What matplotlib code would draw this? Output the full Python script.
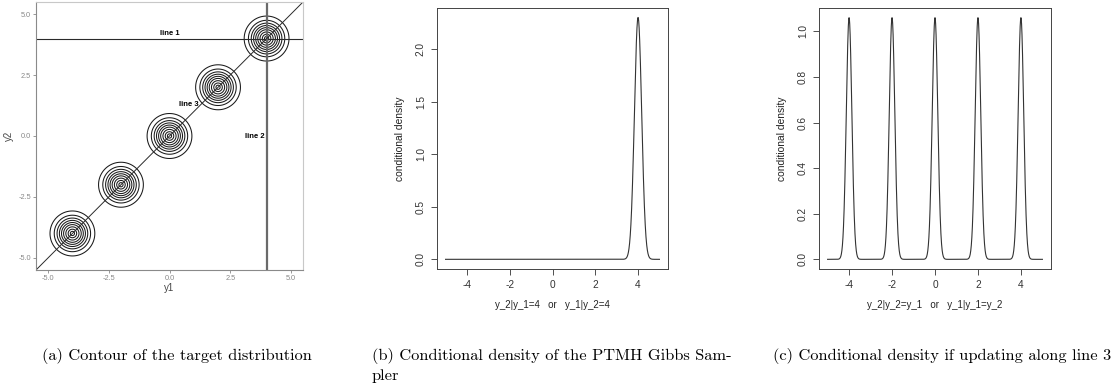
import numpy as np
import matplotlib
matplotlib.use("Agg")
import matplotlib.pyplot as plt

plt.rcParams["font.family"] = ["Liberation Sans", "DejaVu Sans"]
plt.rcParams["axes.unicode_minus"] = False

# Modes of the target (along y1 = y2)
modes = [-4, -2, 0, 2, 4]
contour_sd = 0.43
contour_levels = [0.10, 0.22, 0.34, 0.46, 0.58, 0.70, 0.82, 0.92, 0.98]  # fraction of peak

# panel (b): conditional at y_1 = 4
b_center = 4.0
b_peak = 2.3
b_sd = 0.17
b_yticks = [0.0, 0.5, 1.0, 1.5, 2.0]

# panel (c): conditional along line 3
c_centers = modes
c_peak = 1.06
c_sd = 0.13
c_yticks = [0.0, 0.2, 0.4, 0.6, 0.8, 1.0]

xticks_a = [-5.0, -2.5, 0.0, 2.5, 5.0]
xticks_bc = [-4, -2, 0, 2, 4]

line_labels = [("line 1", 0.0, 4.2), ("line 3", 0.8, 1.3), ("line 2", 3.5, 0.0)]

captions = [
    ("(a) Contour of the target distribution", 42),
    ("(b) Conditional density of the PTMH Gibbs Sam-\npler", 372),
    ("(c) Conditional density if updating along line 3", 773),
]

W, H = 1119, 392
fig = plt.figure(figsize=(W / 100, H / 100), dpi=100)


def box(l, t, r, b):
    return [l / W, 1 - b / H, (r - l) / W, (b - t) / H]


# ---- (a) contour ----
ax = fig.add_axes(box(36, 2, 303, 270))
g = np.linspace(-5.5, 5.5, 700)
X, Y = np.meshgrid(g, g)
Z = np.zeros_like(X)
for m in modes:
    Z += np.exp(-((X - m) ** 2 + (Y - m) ** 2) / (2 * contour_sd ** 2))
ax.contour(X, Y, Z, levels=contour_levels, colors="#1a1a1a", linewidths=0.75)
ax.axhline(4, color="#2a2a2a", lw=0.8)
ax.axvline(4, color="#6a6a6a", lw=1.6)
ax.plot([-5.5, 5.5], [-5.5, 5.5], color="#2a2a2a", lw=0.7)
for txt, x, y in line_labels:
    ax.text(x, y, txt, ha="center", va="center", fontsize=5.5, fontweight="bold")
ax.set_xlim(-5.5, 5.5)
ax.set_ylim(-5.5, 5.5)
ax.set_xticks(xticks_a)
ax.set_yticks(xticks_a)
ax.set_xticklabels([f"{v:.1f}" for v in xticks_a])
ax.set_yticklabels([f"{v:.1f}" for v in xticks_a])
ax.tick_params(labelsize=5.3, colors="#888888", length=2, width=0.6, pad=1.5)
for side in ["top", "right"]:
    ax.spines[side].set_color("#c8c8c8")
for side in ["left", "bottom"]:
    ax.spines[side].set_color("#8a8a8a")
ax.set_xlabel("y1", fontsize=7, color="#444444", labelpad=1)
ax.set_ylabel("y2", fontsize=7, color="#444444", labelpad=3)


def r_style(ax, yticks, xlabel):
    ax.set_xlim(-5.4, 5.4)
    ax.set_xticks(xticks_bc)
    ax.set_yticks(yticks)
    ax.set_yticklabels([f"{v:.1f}" for v in yticks], rotation=90, va="center")
    ax.tick_params(labelsize=7.3, colors="#333333", length=4, width=0.6, pad=4)
    for s in ax.spines.values():
        s.set_color("#444444")
        s.set_linewidth(0.7)
    ax.set_xlabel(xlabel, fontsize=7, color="#222222", labelpad=7)
    ax.set_ylabel("conditional density", fontsize=7.4, color="#222222", labelpad=8)


t = np.linspace(-5, 5, 2001)

# ---- (b) ----
ax = fig.add_axes(box(437, 8, 668, 269))
yb = b_peak * np.exp(-((t - b_center) ** 2) / (2 * b_sd ** 2))
ax.plot(t, yb, color="#333333", lw=0.8)
ax.set_ylim(-0.092, 2.39)
r_style(ax, b_yticks, "y_2|y_1=4   or   y_1|y_2=4")

# ---- (c) ----
ax = fig.add_axes(box(819, 8, 1051, 269))
yc = np.zeros_like(t)
for m in c_centers:
    yc += c_peak * np.exp(-((t - m) ** 2) / (2 * c_sd ** 2))
ax.plot(t, yc, color="#333333", lw=0.8)
ax.set_ylim(-0.0424, 1.1024)
r_style(ax, c_yticks, "y_2|y_2=y_1   or   y_1|y_1=y_2")

# ---- captions ----
for txt, x in captions:
    fig.text(x / W, 1 - 348 / H, txt, family="cmr10", fontsize=11.8,
             ha="left", va="top", linespacing=1.45)

fig.savefig("out.png", dpi=100, facecolor="white")
